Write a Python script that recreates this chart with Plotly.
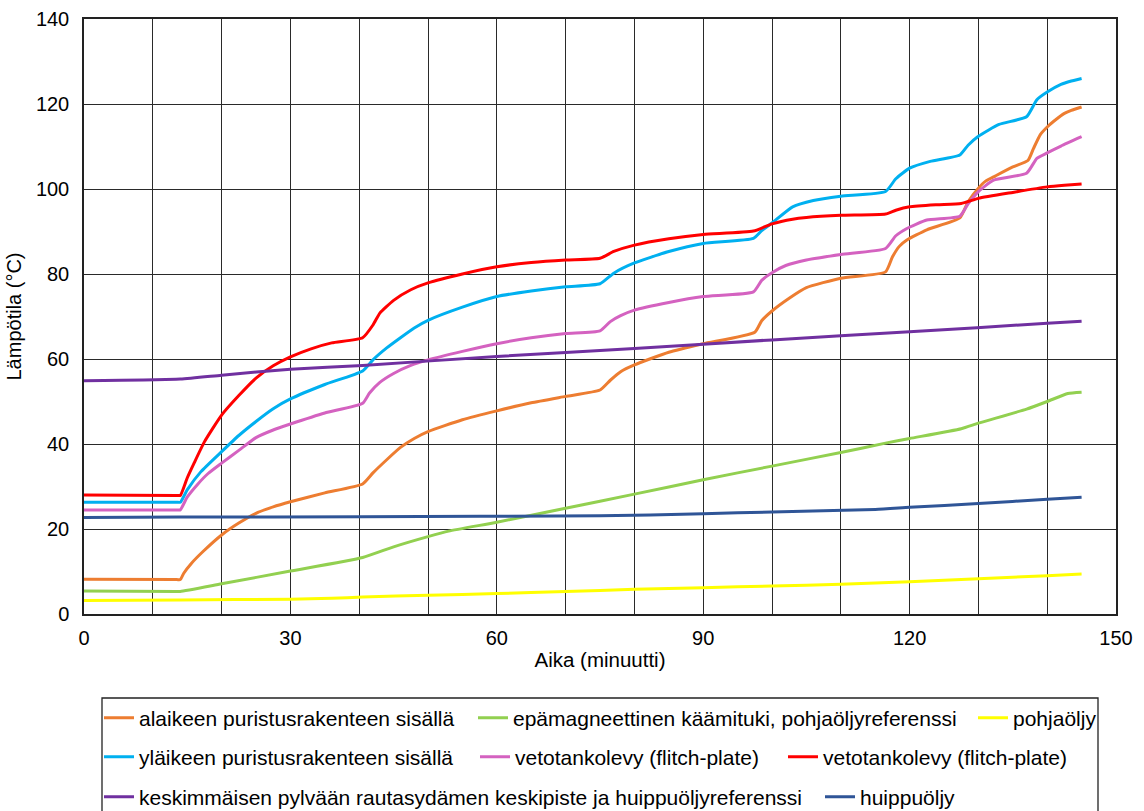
import plotly.graph_objects as go

# ---------------- data ----------------
names = [
    "alaikeen puristusrakenteen sisällä",
    "epämagneettinen käämituki, pohjaöljyreferenssi",
    "pohjaöljy",
    "yläikeen puristusrakenteen sisällä",
    "vetotankolevy (flitch-plate)",
    "vetotankolevy (flitch-plate)",
    "keskimmäisen pylvään rautasydämen keskipiste ja huippuöljyreferenssi",
    "huippuöljy",
]
colors = ["#ED7D31", "#92D050", "#FFFF00", "#00B0F0", "#D462C0", "#FF0000", "#7030A0", "#2F5597"]

orange_x = [0, 13.5, 14, 14.5, 15.6, 17.3, 20, 22.5, 25, 27.5, 30, 35, 40.5, 42, 44, 46, 48, 50, 55, 60, 65, 70,
            75, 76.5, 78, 80, 85, 90, 97.5, 98.5, 100, 102.5, 105, 110, 116.5, 117.5, 118.5, 119.6, 122.5,
            127.3, 128.5, 130, 131, 132.5, 135, 137.2, 138, 139, 140, 141, 142.5, 143.5, 145]
orange_y = [8.2, 8.1, 8.1, 9.6, 11.9, 14.7, 18.6, 21.4, 23.7, 25.2, 26.4, 28.5, 30.6, 33.2, 36.3, 39.2, 41.3,
            42.9, 45.7, 47.8, 49.7, 51.2, 52.7, 55.0, 57.0, 58.6, 61.6, 63.6, 66.3, 69.0, 71.3, 74.3, 76.8,
            79.0, 80.5, 84.0, 86.5, 88.0, 90.4, 93.2, 97.0, 100.2, 101.8, 103.1, 105.2, 106.7, 109.5, 112.8,
            114.6, 116.0, 117.8, 118.5, 119.3]

green_x = [0, 13.5, 14, 20, 30, 40.5, 45, 50, 53, 60, 70, 80, 90, 100, 110, 116.5, 120, 127.5, 130, 137, 140,
           143, 145]
green_y = [5.4, 5.3, 5.3, 7.1, 10.1, 13.3, 15.8, 18.2, 19.5, 21.6, 24.9, 28.2, 31.6, 34.8, 38.0, 40.2, 41.3,
           43.6, 44.9, 48.2, 50.0, 51.9, 52.2]

yellow_x = [0, 14, 30, 36, 40.5, 50, 60, 70, 80, 90, 100, 110, 120, 130, 140, 145]
yellow_y = [3.2, 3.3, 3.5, 3.7, 4.0, 4.4, 4.8, 5.3, 5.8, 6.2, 6.6, 7.0, 7.6, 8.3, 9.0, 9.4]

cyan_x = [0, 13.5, 14, 15, 17, 20, 22.5, 25, 27.5, 30, 35, 40.5, 42, 44, 46, 48, 50, 55, 60, 65, 70, 75, 77,
          80, 85, 90, 97.3, 98.5, 100, 103, 106, 110, 116.5, 118, 120, 123, 127.3, 128.5, 130, 133, 137,
          138.5, 140, 142, 143.5, 145]
cyan_y = [26.3, 26.3, 26.3, 29.2, 33.5, 38.2, 42.0, 45.3, 48.3, 50.6, 54.0, 57.2, 59.8, 62.6, 65.0, 67.3, 69.1,
          72.2, 74.7, 76.0, 77.0, 77.7, 80.2, 82.6, 85.3, 87.2, 88.4, 90.2, 92.0, 95.8, 97.3, 98.3, 99.4,
          102.4, 104.9, 106.5, 108.0, 110.3, 112.4, 115.2, 117.0, 121.0, 122.8, 124.6, 125.4, 126.0]

pink_x = [0, 13.5, 14, 15, 16.5, 18, 20, 22.5, 25, 27.5, 30, 35, 40.5, 41.5, 43, 45, 47.5, 50, 55, 60, 65, 70,
          75, 76.5, 78, 80, 85, 90, 97.3, 98.5, 100, 102, 105, 110, 116.5, 118, 119.6, 122.5, 127.3, 128.5,
          130, 132.2, 137, 138.5, 140, 142, 145]
pink_y = [24.5, 24.5, 24.5, 27.5, 30.5, 33.0, 35.5, 38.5, 41.5, 43.3, 44.7, 47.3, 49.6, 52.0, 54.5, 56.6, 58.5,
          59.8, 61.8, 63.6, 65.0, 66.0, 66.6, 68.8, 70.2, 71.5, 73.3, 74.7, 75.8, 78.5, 80.3, 82.0, 83.3,
          84.6, 86.0, 89.0, 90.7, 92.7, 93.6, 96.5, 99.4, 102.1, 103.7, 107.2, 108.5, 110.1, 112.3]

red_x = [0, 13.5, 14, 15, 16, 17.5, 20, 22.5, 25, 27.5, 30, 33, 36, 40.5, 42, 43, 45, 47.5, 50, 55, 60, 65, 70,
         75, 77, 80, 85, 90, 97.3, 100, 103, 105, 110, 116.5, 118, 120, 124, 127.5, 130, 135, 140, 142.5, 145]
red_y = [28.0, 27.9, 27.9, 32.0, 35.5, 40.5, 46.8, 51.4, 55.5, 58.4, 60.5, 62.4, 63.8, 65.0, 68.0, 70.8, 73.8,
         76.3, 77.9, 80.0, 81.7, 82.7, 83.3, 83.7, 85.3, 86.8, 88.3, 89.3, 90.1, 91.8, 92.9, 93.3, 93.8, 94.1,
         95.0, 95.8, 96.3, 96.6, 97.8, 99.2, 100.5, 100.9, 101.2]

purple_x = [0, 14, 20, 30, 40.5, 60, 80, 100, 120, 140, 145]
purple_y = [54.9, 55.3, 56.2, 57.6, 58.5, 60.6, 62.5, 64.5, 66.4, 68.4, 68.9]

navy_x = [0, 14, 40.5, 75, 90, 100, 115, 120, 130, 140, 145]
navy_y = [22.7, 22.8, 22.9, 23.1, 23.6, 24.0, 24.6, 25.1, 26.0, 27.0, 27.5]

series_x = [orange_x, green_x, yellow_x, cyan_x, pink_x, red_x, purple_x, navy_x]
series_y = [orange_y, green_y, yellow_y, cyan_y, pink_y, red_y, purple_y, navy_y]

x_ticks = [0, 30, 60, 90, 120, 150]
y_ticks = [0, 20, 40, 60, 80, 100, 120, 140]

# ---------------- layout geometry ----------------
W, H = 1144, 811
L, R, T, B = 84, 28, 19, 197
pw, ph = W - L - R, H - T - B


def px_to_paper_x(px):
    return (px - L) / pw


def px_to_paper_y(py):
    return (H - B - py) / ph


# legend item positions (left of legend box, vertical centre) in pixels
legend_pos = [(99, 718), (473, 718), (973, 718),
              (99, 757), (475, 757), (783, 757),
              (99, 797), (820, 797)]

FONT = "Liberation Sans, Arial, sans-serif"

fig = go.Figure()
for i in range(8):
    lid = "legend" if i == 0 else f"legend{i + 1}"
    fig.add_trace(go.Scatter(
        x=series_x[i], y=series_y[i], mode="lines", name=names[i],
        line=dict(color=colors[i], width=3, shape="spline", smoothing=0.5), legend=lid,
    ))

legends = {}
for i, (lx, ly) in enumerate(legend_pos):
    key = "legend" if i == 0 else f"legend{i + 1}"
    legends[key] = dict(
        x=px_to_paper_x(lx), y=px_to_paper_y(ly), xanchor="left", yanchor="middle",
        orientation="h", bgcolor="rgba(0,0,0,0)", borderwidth=0,
        font=dict(family=FONT, size=21, color="#000000"),
        itemwidth=30, tracegroupgap=0,
    )

fig.update_layout(
    width=W, height=H,
    margin=dict(l=L, r=R, t=T, b=B, autoexpand=False),
    paper_bgcolor="white", plot_bgcolor="white",
    font=dict(family=FONT, color="#000000"),
    showlegend=True,
    **legends,
    xaxis=dict(
        range=[0, 150], tickvals=x_ticks, showgrid=True, gridcolor="#2a2a2a", gridwidth=1,
        minor=dict(dtick=10, tick0=0, showgrid=True, gridcolor="#2a2a2a", gridwidth=1),
        showline=True, linecolor="#222222", linewidth=1.5, mirror=True, zeroline=False,
        ticks="", tickfont=dict(family=FONT, size=20, color="#000000"), ticklabelstandoff=5,
        title=dict(text="Aika (minuutti)", font=dict(family=FONT, size=20.5, color="#000000"), standoff=5),
    ),
    yaxis=dict(
        range=[0, 140], tickvals=y_ticks, showgrid=True, gridcolor="#2a2a2a", gridwidth=1,
        showline=True, linecolor="#222222", linewidth=1.5, mirror=True, zeroline=False,
        ticks="", tickfont=dict(family=FONT, size=20, color="#000000"), ticklabelstandoff=9,
        title=dict(text="Lämpötila (°C)", font=dict(family=FONT, size=20, color="#000000"), standoff=9),
    ),
    shapes=[dict(
        type="rect", xref="paper", yref="paper",
        x0=px_to_paper_x(102), x1=px_to_paper_x(1098),
        y0=px_to_paper_y(698), y1=px_to_paper_y(830),
        line=dict(color="#222222", width=1.3), fillcolor="rgba(0,0,0,0)", layer="above",
    )],
)

fig.write_html("out.html")
